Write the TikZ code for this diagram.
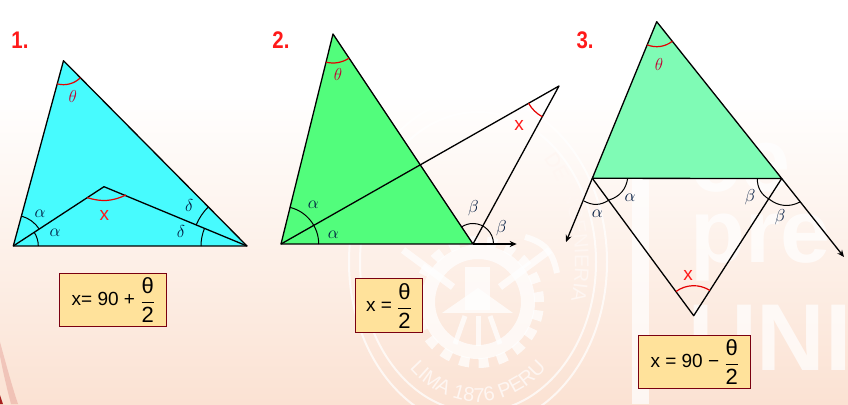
\documentclass[tikz,border=0pt]{standalone}
\usepackage{graphicx}
\usepackage{fontspec}
\setmainfont{Liberation Sans}
\usetikzlibrary{angles,arrows.meta,decorations.text}
\definecolor{peach}{HTML}{FBE2D3}
\definecolor{cyanfill}{HTML}{47FBFE}
\definecolor{greenfill}{HTML}{52FD7C}
\definecolor{mintfill}{HTML}{7FFBB5}
\definecolor{boxfill}{HTML}{FFE29B}
\definecolor{boxedge}{HTML}{7A0010}
\definecolor{greek}{HTML}{001A40}
\definecolor{thetacol}{HTML}{C00030}
\definecolor{redtxt}{HTML}{FF1A1A}
\colorlet{sealtxt}{white!70!peach}
\newcommand{\frc}[2]{{\fontsize{22}{24}\selectfont$\vcenter{\hbox{$\displaystyle{\hbox{#1}\above 0.9pt\hbox{#2}}$}}$}}
\tikzset{
  x=1pt,y=1pt,
  edge/.style={draw=black,line width=1.3pt,line join=round},
  arrowline/.style={edge,-{Stealth[length=7pt,width=6pt]}},
  blackarc/.style={draw=black,line width=1pt,angle eccentricity=1},
  redarc/.style={draw=red!90!black,line width=1.2pt,angle eccentricity=1},
  curvearc/.style={draw=black,line width=1pt},
  redcurve/.style={draw=red!90!black,line width=1.2pt},
  greeklab/.style={text=greek,inner sep=0pt,font=\fontsize{17.28}{20}\selectfont},
  thetalab/.style={text=thetacol,inner sep=0pt,font=\fontsize{17.28}{20}\selectfont},
  xlab/.style={text=redtxt,inner sep=0pt,font=\fontsize{19}{22}\selectfont},
  numlab/.style={text=redtxt,inner sep=0pt,font=\fontsize{24}{26}\selectfont\bfseries},
  formula/.style={draw=boxedge,fill=boxfill,line width=1pt,inner sep=0pt,font=\fontsize{19}{22}\selectfont},
  wm/.style={white,opacity=0.72},
  wmtext/.style={text=white,opacity=0.72,inner sep=0pt,anchor=base west},
}
\begin{document}
\begin{tikzpicture}
\useasboundingbox (0,0) rectangle (848,404);
\clip (0,0) rectangle (848,404);
% background
\fill[white] (0,0) rectangle (848,404);
\shade[top color=white,bottom color=peach] (0,0) rectangle (848,310);
\fill[red!70!black,opacity=0.14] (0,62) .. controls (6,40) and (12,18) .. (18,0) -- (11,0) .. controls (7,15) and (3,32) .. (0,48) -- cycle;
\fill[red!60!black,opacity=0.85] (0,9) -- (3,0) -- (0,0) -- cycle;
% watermark: campaign lettering
\fill[wm] (632,0) rectangle (649,226);
\node[wmtext,font=\fontsize{90}{90}\selectfont\bfseries] (wce) at (690,212) {ce};
\node[wmtext,font=\fontsize{90}{90}\selectfont\bfseries] (wpre) at (690,141) {pre};
\node[wmtext,font=\fontsize{95}{95}\selectfont\bfseries] (wuni) at (688,34) {UNI};
% watermark: seal
\draw[wm,line width=2pt] (478,142) ellipse [x radius=129,y radius=165];
\draw[wm,line width=2pt] (478,142) ellipse [x radius=118,y radius=150];
\draw[wm,line width=14pt] (478,102) circle (50);
\draw[wm,line width=10pt,dash pattern=on 10pt off 9.2pt] (478,102) circle (61);
\fill[wm] (465,137) rectangle (490,94);
\fill[wm] (442,91) -- (478,116) -- (513,91) -- cycle;
\draw[wm,line width=7pt] (403,154) -- (453,117);
\draw[wm,line width=7pt] (550,154) -- (500,117);
\draw[wm,line width=6pt] (525,167) .. controls (547,161) and (553,150) .. (557,131);
\draw[wm,line width=5pt] (465,88) -- (455,60);
\draw[wm,line width=5pt] (490,88) -- (500,60);
\draw[wm,line width=5pt] (478,88) -- (478,58);
\path[decorate,decoration={text along path,text align=center,
  text={|\fontsize{20}{20}\selectfont\color{sealtxt}|LIMA 1876 PERU}}]
  (478,142) ++(214:105 and 140) arc[start angle=214,end angle=326,x radius=105,y radius=140];
\path[decorate,decoration={text along path,text align=center,
  text={|\fontsize{20}{20}\selectfont\color{sealtxt}|DE INGENIERIA}}]
  (478,142) ++(52:97 and 140) arc[start angle=52,end angle=-20,x radius=97,y radius=140];
% labels of the diagrams
\node[numlab] (n1) at (20,364) {\scalebox{.85}[1]{1.}};
\node[numlab] (n2) at (281,364) {\scalebox{.85}[1]{2.}};
\node[numlab] (n3) at (585,364) {\scalebox{.85}[1]{3.}};
% ---------- figure 1
\coordinate (A1) at (63.5,343.3);
\coordinate (B1) at (13.3,158);
\coordinate (C1) at (247,158);
\coordinate (P1) at (104,217.3);
\coordinate (Xa) at (87.3,206.3);
\coordinate (Xb) at (126,209);
\fill[cyanfill] (A1) -- (B1) -- (C1) -- cycle;
\draw[edge] (A1) -- (B1) -- (C1) -- cycle;
\draw[edge] (B1) -- (P1) -- (C1);
\pic[redarc,angle radius=24pt] {angle=B1--A1--C1};
\draw[redcurve] (Xa) to[bend right=21] (Xb);
\pic[blackarc,angle radius=25pt] {angle=C1--B1--P1};
\pic[blackarc,angle radius=31pt] {angle=P1--B1--A1};
\pic[blackarc,angle radius=46pt] {angle=P1--C1--B1};
\pic[blackarc,angle radius=55pt] {angle=A1--C1--P1};
\node[thetalab] (t1) at (72.7,307.3) {$\theta$};
\node[greeklab] (a1u) at (40,190) {$\alpha$};
\node[greeklab] (a1l) at (55,171) {$\alpha$};
\node[greeklab] (d1u) at (189.3,198) {$\delta$};
\node[greeklab] (d1l) at (181,172.3) {$\delta$};
\node[xlab] (x1) at (104.3,188.3) {x};
\node[formula,minimum width=106.7pt,minimum height=53.7pt] (f1) at (113.3,104) {x= 90 + \frc{θ}{2}};
% ---------- figure 2
\coordinate (A2) at (333,370);
\coordinate (B2) at (281,160);
\coordinate (C2) at (473,160);
\coordinate (E2) at (516.7,160);
\coordinate (F2) at (559,318);
\fill[greenfill] (A2) -- (B2) -- (C2) -- cycle;
\draw[edge] (A2) -- (B2) -- (C2) -- cycle;
\draw[edge] (B2) -- (F2) -- (C2);
\draw[arrowline] (C2) -- (E2);
\pic[redarc,angle radius=29pt] {angle=B2--A2--C2};
\pic[redarc,angle radius=35pt] {angle=B2--F2--C2};
\pic[blackarc,angle radius=37.7pt] {angle=C2--B2--A2};
\pic[blackarc,angle radius=20.5pt] {angle=E2--C2--A2};
\node[thetalab] (t2) at (338,329) {$\theta$};
\node[greeklab] (a2u) at (313.3,199) {$\alpha$};
\node[greeklab] (a2l) at (333.3,169.7) {$\alpha$};
\node[greeklab] (b2u) at (473.3,195.7) {$\beta$};
\node[greeklab] (b2l) at (501.3,175.7) {$\beta$};
\node[xlab] (x2) at (519,278.3) {x};
\node[formula,minimum width=67.4pt,minimum height=54pt] (f2) at (389,98) {x = \frc{θ}{2}};
% ---------- figure 3
\coordinate (A3) at (656.7,382.3);
\coordinate (L3) at (592.3,225.7);
\coordinate (R3) at (781.7,225.5);
\coordinate (D3) at (693.7,88.3);
\coordinate (LA3) at (566,162);
\coordinate (RA3) at (844,147);
\fill[mintfill] (A3) -- (L3) -- (R3) -- cycle;
\draw[edge] (A3) -- (L3) -- (R3) -- cycle;
\draw[edge] (L3) -- (D3) -- (R3);
\draw[arrowline] (L3) -- (LA3);
\draw[arrowline] (R3) -- (RA3);
\pic[redarc,angle radius=25pt] {angle=L3--A3--R3};
\pic[redarc,angle radius=30pt] {angle=R3--D3--L3};
\coordinate (La) at (627.7,225.7);
\coordinate (Lb) at (609,204);
\coordinate (Lc) at (584,203);
\draw[curvearc] (La) to[bend left=32] (Lb);
\draw[curvearc] (Lb) to[bend left=32] (Lc);
\coordinate (Ra) at (757.3,225.5);
\coordinate (Rb) at (769.3,204.7);
\coordinate (Rc) at (800,202);
\draw[curvearc] (Ra) to[bend right=30] (Rb);
\draw[curvearc] (Rb) to[bend right=32] (Rc);
\node[thetalab] (t3) at (659,339) {$\theta$};
\node[greeklab] (a3u) at (630,206.7) {$\alpha$};
\node[greeklab] (a3l) at (597.3,190.7) {$\alpha$};
\node[greeklab] (b3u) at (750,206.7) {$\beta$};
\node[greeklab] (b3l) at (780,186.7) {$\beta$};
\node[xlab] (x3) at (688,128.3) {x};
\node[formula,minimum width=111.7pt,minimum height=52.7pt] (f3) at (694.8,42) {x = 90 − \frc{θ}{2}};
\end{tikzpicture}
\end{document}
